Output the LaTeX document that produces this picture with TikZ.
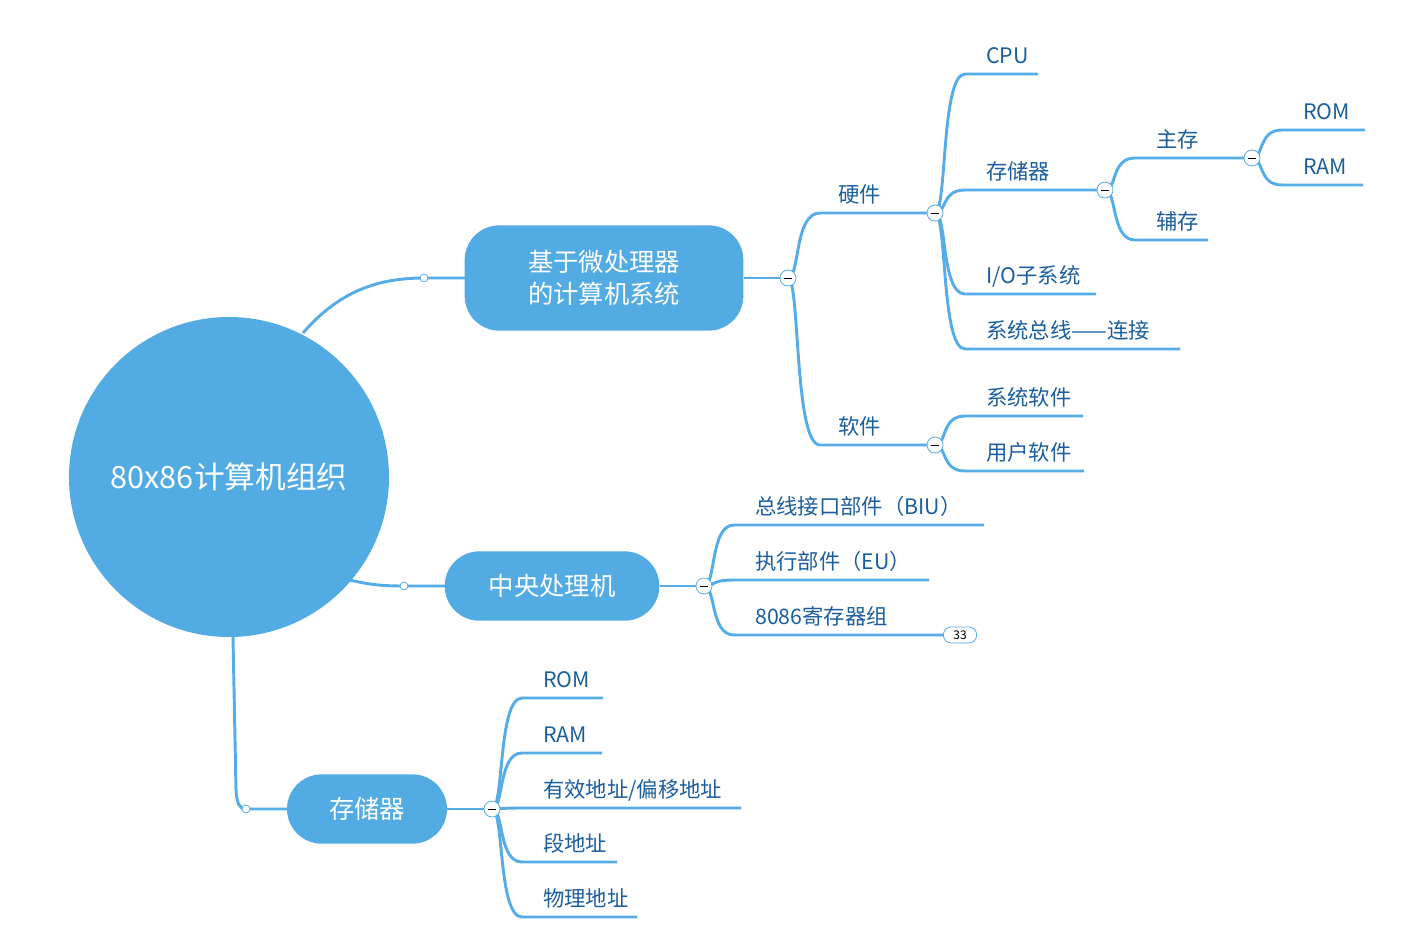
\documentclass[tikz,border=0pt]{standalone}
\usepackage{fontspec}
\setmainfont{Noto Sans CJK SC}
\begin{document}
\begin{tikzpicture}[x=0.75pt,y=-0.75pt,
  ln/.style={draw=lineblue,line width=2.2pt},
  lbl/.style={anchor=base west,text=textblue,font=\fontsize{16}{16}\selectfont,inner sep=0pt},
  topic/.style={fill=topicblue,rounded corners=26pt,text=white,font=\fontsize{19}{24}\selectfont,align=center,inner sep=0pt},
  mk/.style={circle,draw=lineblue,fill=white,minimum size=12pt,inner sep=0pt,line width=0.6pt},
  dot/.style={circle,draw=lineblue,fill=white,minimum size=6pt,inner sep=0pt,line width=0.6pt}]
\definecolor{lineblue}{HTML}{55ACE6}
\definecolor{topicblue}{HTML}{52ABE3}
\definecolor{textblue}{HTML}{1A5E9E}
\useasboundingbox (0,0) rectangle (1421,939);
\newcommand{\br}[6]{%
  \draw[ln] (#1,#2) .. controls (#1+12,#2) and (#1+6,#3) .. (#1+30,#3) -- (#4,#3);
  \node[lbl] (#6) at (#1+51,#3-11) {#5};}
% root
\fill[topicblue] (229,477) circle (160);
\node[text=white,font=\fontsize{23}{23}\selectfont] (root) at (229,477) {80x86计算机组织};
% root connectors
\draw[ln] (303,333) .. controls (340,290) and (380,278) .. (424,278) -- (465,278);
\draw[ln] (350,580) .. controls (370,585) and (385,586) .. (404,586) -- (445,586);
\draw[ln] (233,637) -- (236,790) .. controls (237,805) and (240,809) .. (246,809) -- (287,809);
% topics
\node[topic,minimum width=209pt,minimum height=79pt] (t1) at (604,278) {基于微处理器\\的计算机系统};
\node[topic,minimum width=161pt,minimum height=52pt] (t2) at (552,586) {中央处理机};
\node[topic,minimum width=120pt,minimum height=52pt] (t3) at (367,809) {存储器};
\draw[ln] (t1.east) -- (788,278);
\draw[ln] (t2.east) -- (704,586);
\draw[ln] (t3.east) -- (492,809);
% topic 1
\draw[ln] (788,278) .. controls (800,278) and (794,213) .. (820,213) -- (935,213);
\node[lbl] (hw) at (838,202) {硬件};
\draw[ln] (788,278) .. controls (800,278) and (794,445) .. (820,445) -- (935,445);
\node[lbl] (sw) at (838,434) {软件};
\br{935}{213}{74}{1038}{CPU}{cpu}
\br{935}{213}{190}{1105}{存储器}{mem}
\br{935}{213}{294}{1096}{I/O子系统}{io}
\br{935}{213}{349}{1180}{系统总线——连接}{bus}
\br{1105}{190}{158}{1252}{主存}{ms}
\br{1105}{190}{240}{1208}{辅存}{as}
\br{1252}{158}{130}{1365}{ROM}{rom1}
\br{1252}{158}{185}{1363}{RAM}{ram1}
\br{935}{445}{416}{1083}{系统软件}{ss}
\br{935}{445}{471}{1084}{用户软件}{us}
% topic 2
\br{704}{586}{525}{984}{总线接口部件（BIU）}{biu}
\br{704}{586}{580}{929}{执行部件（EU）}{eu}
\br{704}{586}{635}{950}{8086寄存器组}{reg}
\node[draw=lineblue,fill=white,rounded corners=6pt,minimum width=25pt,minimum height=12pt,inner sep=0pt,font=\fontsize{9}{9}\selectfont,line width=0.6pt] (badge) at (960,635) {33};
% topic 3
\br{492}{809}{698}{603}{ROM}{rom2}
\br{492}{809}{753}{602}{RAM}{ram2}
\br{492}{809}{808}{741}{有效地址/偏移地址}{ea}
\br{492}{809}{862}{617}{段地址}{sa}
\br{492}{809}{917}{637}{物理地址}{pa}
% markers
\foreach \n/\x/\y in {m1/788/278,m2/935/213,m3/1105/190,m4/1252/158,m5/935/445,m6/704/586,m7/492/809}{
  \node[mk] (\n) at (\x,\y) {};
  \draw[black,line width=0.6pt] (\x-4,\y) -- (\x+4,\y);}
\node[dot] (d1) at (424,278) {};
\node[dot] (d2) at (404,586) {};
\node[dot] (d3) at (246,809) {};
\end{tikzpicture}
\end{document}
